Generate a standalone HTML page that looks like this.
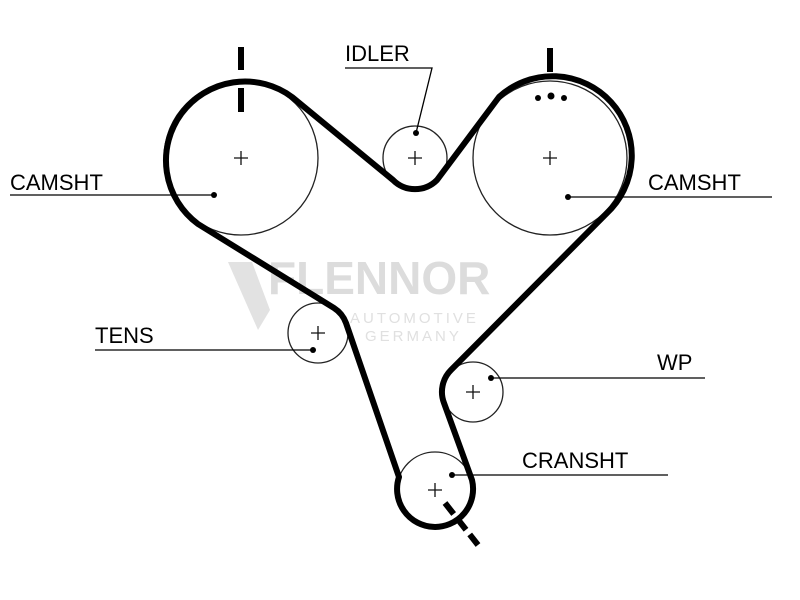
<!DOCTYPE html>
<html><head><style>
html,body{margin:0;padding:0;background:#fff;}
svg{display:block;}
text{font-family:"Liberation Sans",sans-serif;}
</style></head><body>
<svg width="800" height="600" viewBox="0 0 800 600">
<rect width="800" height="600" fill="#fff"/>
<g fill="#ddd" font-weight="bold">
<text x="268" y="294" font-size="46" fill="#dcdcdc">FLENNOR</text>
<polygon points="228,262 252,262 270,310 258,330" fill="#e2e2e2"/>
<text x="350" y="323" font-size="15" fill="#e0e0e0" letter-spacing="3" font-weight="normal">AUTOMOTIVE</text>
<text x="365" y="341" font-size="15" fill="#e0e0e0" letter-spacing="3" font-weight="normal">GERMANY</text>
</g>
<g fill="none" stroke="#222" stroke-width="1.3">
<circle cx="241" cy="158" r="77"/>
<circle cx="550" cy="158" r="77"/>
<circle cx="415" cy="158" r="32"/>
<circle cx="318" cy="333" r="30"/>
<circle cx="473" cy="392" r="30"/>
<circle cx="435" cy="490" r="38"/>
</g>
<g stroke="#111" stroke-width="1.3">
<path d="M234,158h14M241,151v14M543,158h14M550,151v14M408,158h14M415,151v14M311,333h14M318,326v14M466,392h14M473,385v14M428,490h14M435,483v14"/>
</g>
<path d="M198,224 A79,79 0 1 1 292,97 L393,180 A31,31 0 0 0 437,180 L499,97 A79,79 0 0 1 606,214 L451,370 A31,31 0 0 0 444,403 L472,480 A38,38 0 1 1 399,477 L346,323 A30,30 0 0 0 334,308 Z" fill="none" stroke="#000" stroke-width="6" stroke-linejoin="round"/>
<g fill="#000">
<rect x="238" y="47" width="6" height="23"/>
<rect x="238" y="88" width="6" height="24"/>
<rect x="547" y="48" width="6" height="24"/>
<circle cx="538" cy="98" r="3"/><circle cx="551" cy="96" r="3.5"/><circle cx="564" cy="98" r="3"/>
</g>
<path d="M445,503 L478,545" stroke="#000" stroke-width="6" stroke-dasharray="14,6"/>
<g stroke="#000" stroke-width="1.3" fill="none">
<path d="M345,68H432L416,133"/>
<path d="M10,195H214"/>
<path d="M568,197H772"/>
<path d="M95,350H313"/>
<path d="M490,378H705"/>
<path d="M452,475H668"/>
</g>
<g fill="#000">
<circle cx="416" cy="133" r="3"/><circle cx="214" cy="195" r="3"/><circle cx="568" cy="197" r="3"/>
<circle cx="313" cy="350" r="3"/><circle cx="491" cy="378" r="3"/><circle cx="452" cy="475" r="3"/>
</g>
<g font-size="22" fill="#000">
<text x="345" y="61">IDLER</text>
<text x="10" y="190">CAMSHT</text>
<text x="648" y="190">CAMSHT</text>
<text x="95" y="343">TENS</text>
<text x="657" y="370">WP</text>
<text x="522" y="468">CRANSHT</text>
</g>
</svg>
</body></html>
